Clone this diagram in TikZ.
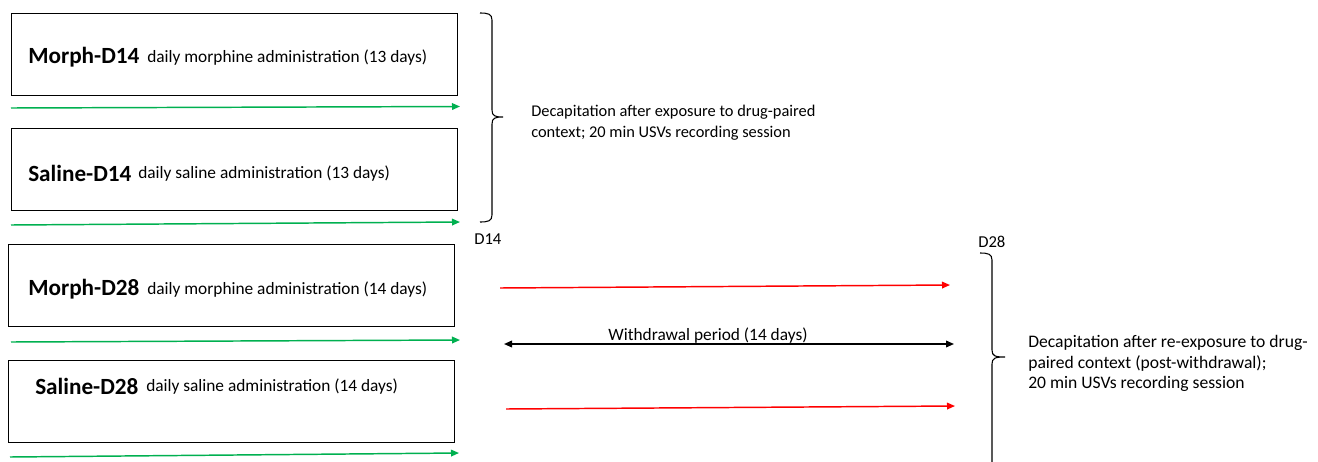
\documentclass[tikz,border=0pt]{standalone}
\usepackage{fontspec}
\setmainfont{Carlito}
\usetikzlibrary{arrows.meta}
\definecolor{offgreen}{RGB}{0,176,80}
\definecolor{offred}{RGB}{255,0,0}
\tikzset{
  box/.style={draw=black, line width=0.8pt, minimum width=446*0.75pt, minimum height=82*0.75pt, inner sep=0pt, anchor=north west},
  lbl/.style={anchor=west, inner sep=0pt, font=\fontsize{13}{15}\selectfont},
  big/.style={anchor=west, inner sep=0pt, font=\fontsize{17.4}{20}\selectfont\bfseries},
  dlbl/.style={anchor=north west, inner sep=0pt, font=\fontsize{12.5}{14}\selectfont},
  garrow/.style={draw=offgreen, line width=1.1pt, -{Triangle[length=6pt,width=5pt]}},
  rarrow/.style={draw=offred, line width=1.1pt, -{Triangle[length=6pt,width=5pt]}},
  barrow/.style={draw=black, line width=1.1pt, {Triangle[length=6pt,width=5pt]}-{Triangle[length=6pt,width=5pt]}},
  brace/.style={draw=black, line width=0.8pt},
  note/.style={anchor=north west, inner sep=0pt, align=left, font=\fontsize{12.3}{15.5}\selectfont},
  notebig/.style={anchor=north west, inner sep=0pt, align=left, font=\fontsize{13.2}{15.4}\selectfont}
}
\begin{document}
\begin{tikzpicture}[x=0.75pt, y=-0.75pt]
\useasboundingbox (0,0) rectangle (1318,461);
% boxes
\node[box] (b1) at (11,13) {};
\node[box] (b2) at (11,128) {};
\node[box] (b3) at (8,244) {};
\node[box] (b4) at (8,360) {};
% box texts
\node[big] (t1a) at (28,57) {Morph-D14};
\node[lbl] (t1b) at (147,57.5) {daily morphine administration (13 days)};
\node[big] (t2a) at (28,173) {Saline-D14};
\node[lbl] (t2b) at (138,173.5) {daily saline administration (13 days)};
\node[big] (t3a) at (28,289) {Morph-D28};
\node[lbl] (t3b) at (147,289.5) {daily morphine administration (14 days)};
\node[big] (t4a) at (35,386) {Saline-D28};
\node[lbl] (t4b) at (146,386.5) {daily saline administration (14 days)};
% green arrows
\coordinate (g1s) at (11,108); \coordinate (g1e) at (460,106.5);
\coordinate (g2s) at (11,225); \coordinate (g2e) at (460,222);
\coordinate (g3s) at (11,342); \coordinate (g3e) at (460,340);
\coordinate (g4s) at (10,457); \coordinate (g4e) at (459,453);
\draw[garrow] (g1s) -- (g1e);
\draw[garrow] (g2s) -- (g2e);
\draw[garrow] (g3s) -- (g3e);
\draw[garrow] (g4s) -- (g4e);
% red arrows
\coordinate (r1s) at (500,288); \coordinate (r1e) at (950,285);
\coordinate (r2s) at (506,409); \coordinate (r2e) at (955,406);
\draw[rarrow] (r1s) -- (r1e);
\draw[rarrow] (r2s) -- (r2e);
% withdrawal
\coordinate (ws) at (504,344); \coordinate (we) at (954,344);
\draw[barrow] (ws) -- (we);
\node[anchor=south, inner sep=0pt, font=\fontsize{13}{15}\selectfont] (wl) at (708,344) {Withdrawal period (14 days)};
% brace 1
\draw[brace] (480,13) .. controls (488,13) and (492,14) .. (492,20) -- (492,110)
  .. controls (492,116) and (495,117) .. (503,117)
  (492,124) .. controls (492,118) and (495,117) .. (503,117)
  (492,124) -- (492,215) .. controls (492,221) and (488,222) .. (480,222);
\node[note] (n1) at (531,105) {Decapitation after exposure to drug-paired\\context; 20 min USVs recording session};
\node[dlbl] (d14) at (474,234) {D14};
% brace 2
\draw[brace] (980,253) .. controls (988,253) and (992,254) .. (992,260) -- (992,350)
  .. controls (992,356) and (995,357) .. (1005,357)
  (992,364) .. controls (992,358) and (995,357) .. (1005,357)
  (992,364) -- (992,470);
\node[dlbl] (d28) at (978,236) {D28};
\node[notebig] (n2) at (1028,335) {Decapitation after re-exposure to drug-\\paired context (post-withdrawal);\\20 min USVs recording session};
\end{tikzpicture}
\end{document}
